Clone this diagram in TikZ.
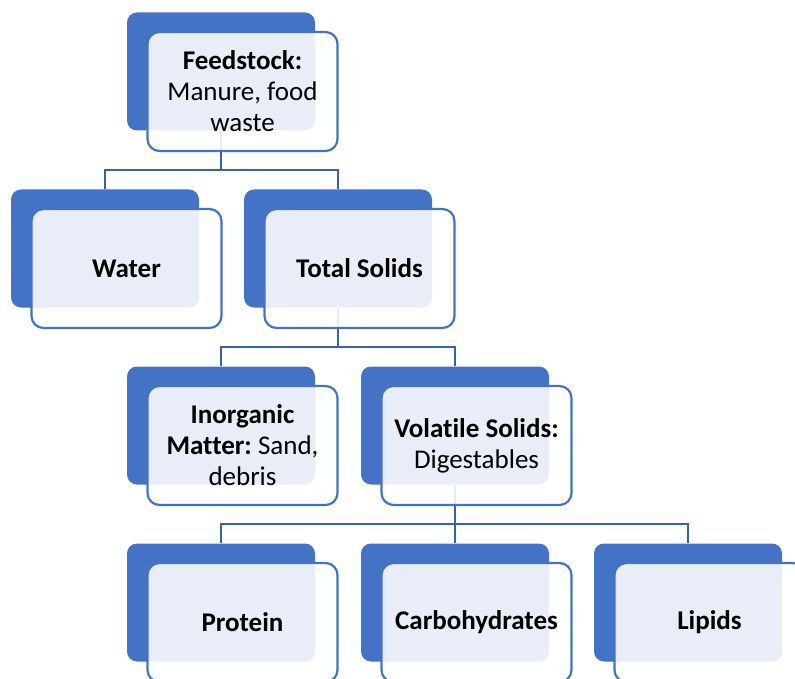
\documentclass[tikz,border=0pt]{standalone}
\usepackage{fontspec}
\setmainfont{Carlito}[Ligatures=NoCommon]
\frenchspacing
\definecolor{accent}{HTML}{4472C4}
\definecolor{linkblue}{HTML}{3A60AA}
\tikzset{
  backbox/.style={rectangle, rounded corners=10pt, fill=accent,
    minimum width=188pt, minimum height=118pt, inner sep=0pt},
  frontbox/.style={rectangle, rounded corners=12pt, draw=accent, line width=2.2pt,
    fill=white, fill opacity=0.88, text opacity=1, text=black,
    minimum width=190pt, minimum height=119pt, inner sep=0pt, align=center,
    font=\fontsize{27}{31}\selectfont},
  conn/.style={draw=linkblue, line width=2.5pt}
}
\begin{document}
\begin{tikzpicture}[x=1pt, y=-1pt]
\useasboundingbox (0,0) rectangle (795,679);
\clip (0,0) rectangle (795,679);

% back plates
\node[backbox] (feedB)   at (221,71.5)  {};
\node[backbox] (waterB)  at (105,248.5) {};
\node[backbox] (solidsB) at (338,248.5) {};
\node[backbox] (inorgB)  at (221,425.5) {};
\node[backbox] (volB)    at (455,425.5) {};
\node[backbox] (protB)   at (221,602.5) {};
\node[backbox] (carbB)   at (455,602.5) {};
\node[backbox] (lipB)    at (688,602.5) {};

% bus levels
\coordinate (bus1) at (0,170);
\coordinate (bus2) at (0,347);
\coordinate (bus3) at (0,524);

% connectors
\draw[conn] (feedB.south) -- (feedB.south |- bus1) -| (waterB.north);
\draw[conn] (feedB.south |- bus1) -| (solidsB.north);
\draw[conn] (solidsB.south) -- (solidsB.south |- bus2) -| (inorgB.north);
\draw[conn] (solidsB.south |- bus2) -| (volB.north);
\draw[conn] (volB.south) -- (volB.south |- bus3) -| (protB.north);
\draw[conn] (volB.south |- bus3) -| (lipB.north);
\draw[conn] (volB.south |- bus3) -- (carbB.north);

% front cards with text
\node[frontbox] (feed)   at ([shift={(21.5,20)}]feedB.center)
  {\textbf{Feedstock:}\\Manure, food\\waste};
\node[frontbox] (water)  at ([shift={(21.5,20)}]waterB.center) {\textbf{Water}};
\node[frontbox] (solids) at ([shift={(21.5,20)}]solidsB.center) {\textbf{Total Solids}};
\node[frontbox] (inorg)  at ([shift={(21.5,20)}]inorgB.center)
  {\textbf{Inorganic}\\\textbf{Matter:} Sand,\\debris};
\node[frontbox] (vol)    at ([shift={(21.5,20)}]volB.center)
  {\textbf{Volatile Solids:}\\Digestables};
\node[frontbox] (prot)   at ([shift={(21.5,20)}]protB.center) {\textbf{Protein}};
\node[frontbox] (carb)   at ([shift={(21.5,20)}]carbB.center) {\textbf{Carbohydrates}};
\node[frontbox] (lip)    at ([shift={(21.5,20)}]lipB.center) {\textbf{Lipids}};
\end{tikzpicture}
\end{document}
